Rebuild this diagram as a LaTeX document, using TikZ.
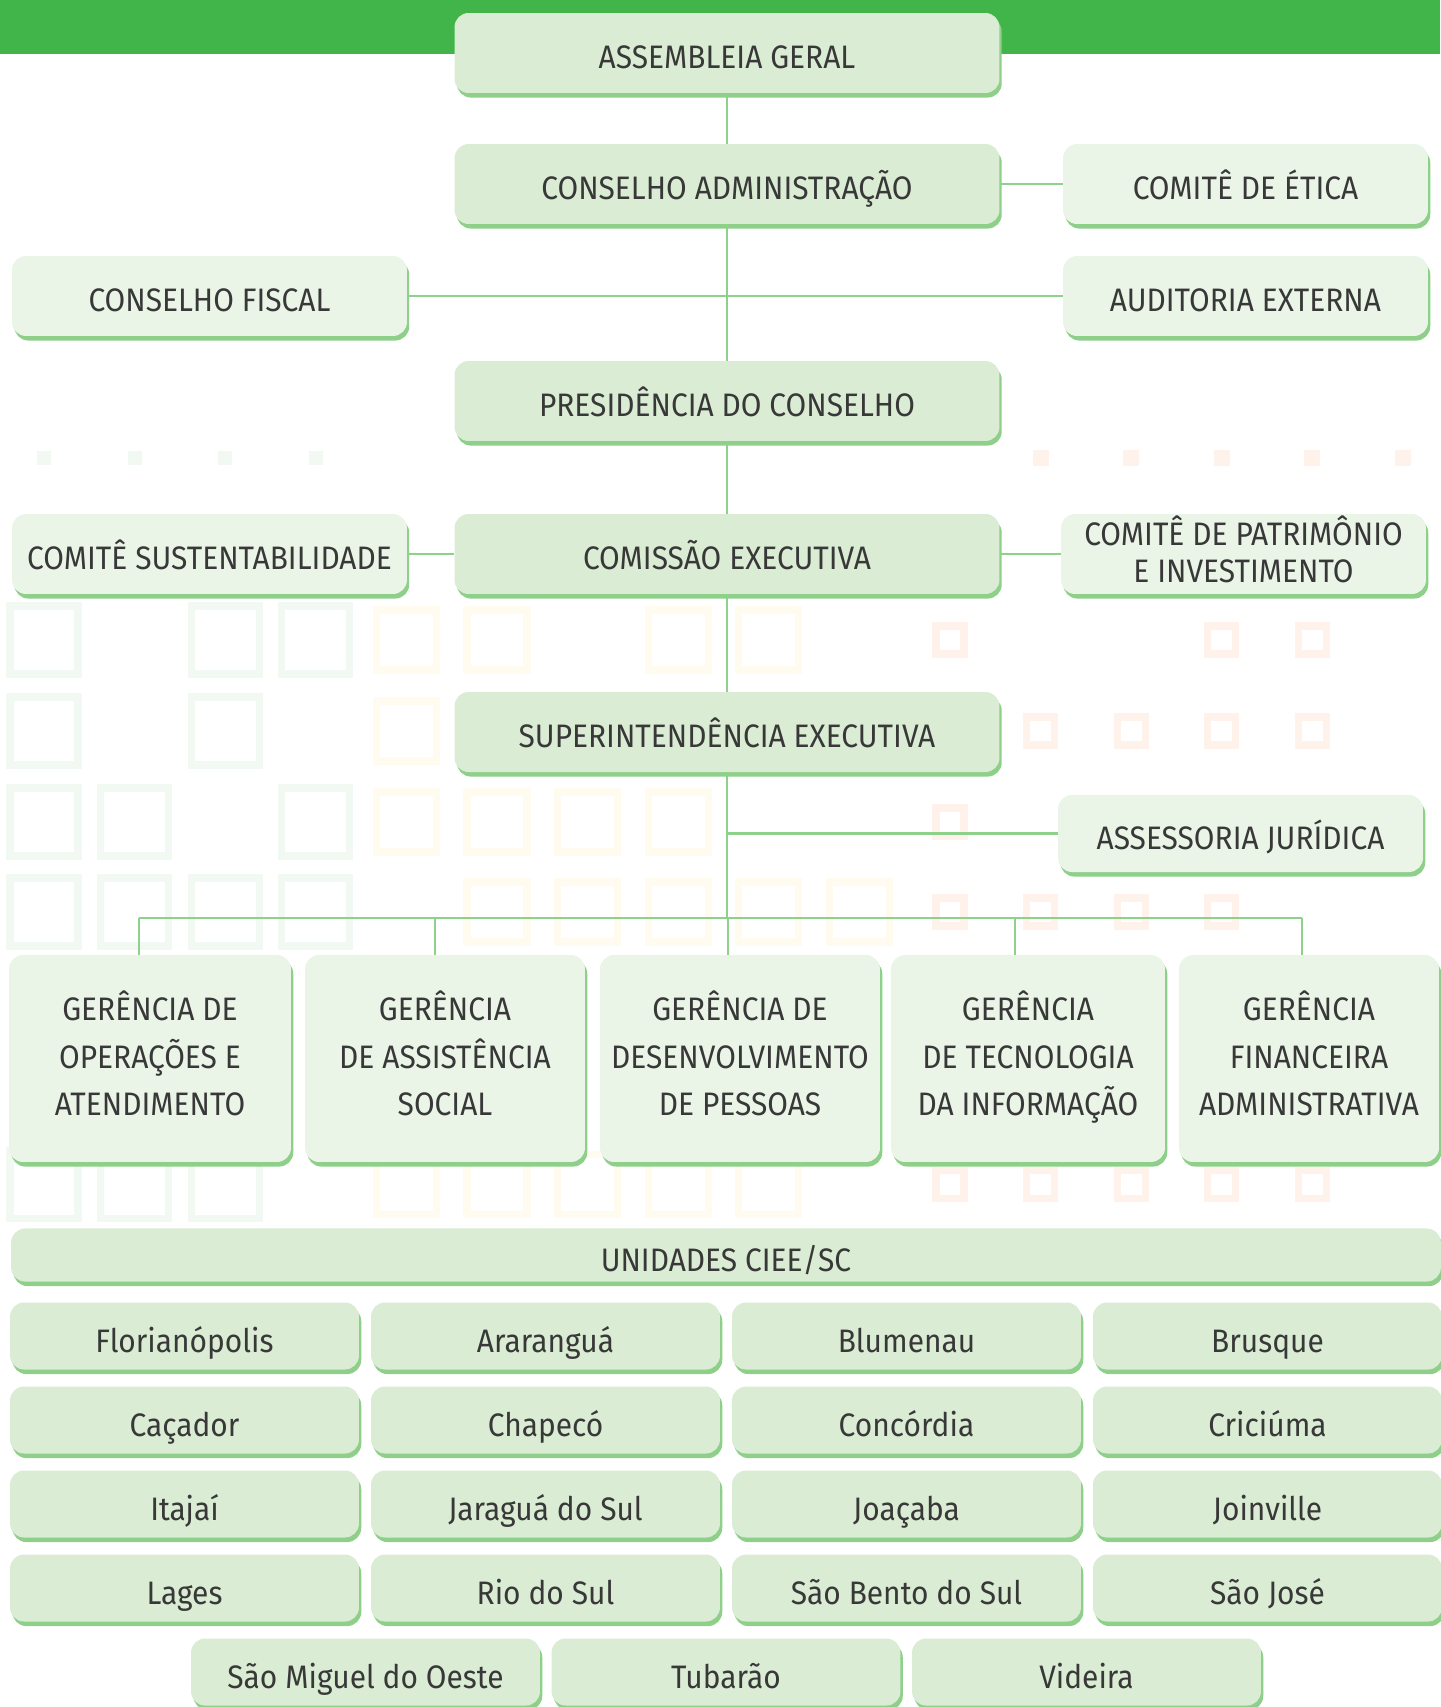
\documentclass[tikz,border=0pt]{standalone}
\usepackage{fontspec}
\setmainfont{Fira Sans}[FakeStretch=0.92]
\usepackage{tikz}
\usetikzlibrary{shadows}

\definecolor{topbar}{HTML}{41B54A}
\definecolor{boxfill}{HTML}{DAECD3}
\definecolor{boxlight}{HTML}{EAF5E7}
\definecolor{boxshade}{HTML}{8ECF8A}
\definecolor{linkgreen}{HTML}{8ED18B}
\definecolor{decog}{HTML}{F2F9F2}
\definecolor{decoy}{HTML}{FFFBEE}
\definecolor{decoo}{HTML}{FEF2EA}

\newcommand\boxstrut{\rule[-6pt]{0pt}{30.2pt}}

\tikzset{
    orgbox/.style={fill=boxfill, rounded corners=8pt, inner sep=0pt, align=center,
        text=black!78, font=\fontsize{18.5}{27}\selectfont,
        execute at begin node=\boxstrut, execute at end node=\boxstrut,
        drop shadow={shadow xshift=1.3pt, shadow yshift=-2.6pt, fill=boxshade, opacity=1}},
    sidebox/.style={orgbox, fill=boxlight},
    topgap/.style={execute at begin node={\rule{0pt}{#1}}},
    midbox/.style={orgbox, minimum width=10.9cm, minimum height=1.6cm},
    gerbox/.style={sidebox, minimum height=4.14cm, topgap=30.4pt},
    citybox/.style={orgbox, minimum width=6.98cm, minimum height=1.34cm},
    link/.style={draw=linkgreen, line width=1.5pt},
}

\begin{document}
\begin{tikzpicture}[x=0.02cm, y=-0.02cm]
    \useasboundingbox (0,0) rectangle (1440,1707);
    \fill[topbar] (0,0) rectangle (1440,54);

    % faint squares in the background
    \foreach \i in {0,...,3}
        \fill[decog] ({44+90.6*\i-7},451) rectangle ++(14,14);
    \foreach \i in {11,...,15}
        \fill[decoo] ({44+90.6*\i-8},450) rectangle ++(16,16);
    \foreach \y/\list in {640/{0,2,3}, 731/{0,2}, 822/{0,1,3}, 912/{0,1,2,3}, 1184/{0,1,2}}
        \foreach \i in \list
            \draw[decog, line width=4pt] ({44+90.6*\i-34},{\y-34}) rectangle ++(68,68);
    \foreach \y/\list in {640/{4,5,7,8}, 731/{4}, 822/{4,5,6,7}, 912/{5,6,7,8,9}, 1184/{4,5,6,7,8}}
        \foreach \i in \list
            \draw[decoy, line width=4pt] ({44+90.6*\i-30},{\y-30}) rectangle ++(60,60);
    \foreach \y/\list in {640/{10,13,14}, 731/{11,12,13,14}, 822/{10}, 912/{10,11,12,13}, 1184/{10,11,12,13,14}}
        \foreach \i in \list
            \draw[decoo, line width=4pt] ({44+90.6*\i-14},{\y-14}) rectangle ++(28,28);

    % Top of the chart
    \node[midbox] (asm) at (727,53) {ASSEMBLEIA GERAL};
    \node[midbox] (cad) at (727,184) {CONSELHO ADMINISTRAÇÃO};
    \node[sidebox, minimum width=7.3cm, minimum height=1.6cm] (etica) at (1245.5,184) {COMITÊ DE ÉTICA};
    \node[sidebox, minimum width=7.9cm, minimum height=1.6cm] (fiscal) at (209.5,296) {CONSELHO FISCAL};
    \node[sidebox, minimum width=7.3cm, minimum height=1.6cm] (audit) at (1245.5,296) {AUDITORIA EXTERNA};
    \node[midbox] (pres) at (727,401) {PRESIDÊNCIA DO CONSELHO};
    \node[sidebox, minimum width=7.9cm, minimum height=1.6cm] (sust) at (209.5,554) {COMITÊ SUSTENTABILIDADE};
    \node[midbox] (cex) at (727,554) {COMISSÃO EXECUTIVA};
    \node[sidebox, minimum width=7.3cm, minimum height=1.6cm, topgap=29.2pt, font=\fontsize{18.5}{21}\selectfont] (patr) at (1243.5,554) {COMITÊ DE PATRIMÔNIO\\E INVESTIMENTO};
    \node[midbox] (sup) at (727,732) {SUPERINTENDÊNCIA EXECUTIVA};
    \node[sidebox, minimum width=7.3cm, minimum height=1.54cm] (jur) at (1240.5,833.5) {ASSESSORIA JURÍDICA};

    \draw[link] (asm) -- (cad);
    \draw[link] (cad) -- (etica);
    \draw[link] (cad) -- (pres);
    \draw[link] (fiscal) -- (audit);
    \draw[link] (pres) -- (cex);
    \draw[link] (sust) -- (cex);
    \draw[link] (cex) -- (patr);
    \draw[link] (cex) -- (sup);

    % Gerencias
    \node[gerbox, minimum width=5.64cm] (g1) at (150,1058.5) {GERÊNCIA DE\\OPERAÇÕES E\\ATENDIMENTO};
    \node[gerbox, minimum width=5.6cm] (g2) at (445,1058.5) {GERÊNCIA\\DE ASSISTÊNCIA\\SOCIAL};
    \node[gerbox, minimum width=5.6cm] (g3) at (740,1058.5) {GERÊNCIA DE\\DESENVOLVIMENTO\\DE PESSOAS};
    \node[gerbox, minimum width=5.48cm] (g4) at (1028,1058.5) {GERÊNCIA\\DE TECNOLOGIA\\DA INFORMAÇÃO};
    \node[gerbox, minimum width=5.2cm] (g5) at (1309,1058.5) {GERÊNCIA\\FINANCEIRA\\ADMINISTRATIVA};

    \coordinate (bus) at (727,918);
    \draw[link] (sup) -- (bus);
    \draw[link] (sup.south |- jur.west) -- (jur.west);
    \foreach \g/\x in {g1/139, g2/435, g3/728, g4/1015, g5/1302}{
        \coordinate (d\g) at (\x,918);
        \draw[link] (d\g) -- (d\g |- \g.north);
    }
    \draw[link] (dg1) -- (dg5);

    % Unidades
    \node[orgbox, minimum width=28.6cm, minimum height=0.96cm] (unid) at (726,1255) {UNIDADES CIEE/SC};
    \foreach \city [count=\i from 0] in {Florianópolis,Araranguá,Blumenau,Brusque,Caçador,Chapecó,Concórdia,Criciúma,Itajaí,Jaraguá do Sul,Joaçaba,Joinville,Lages,Rio do Sul,São Bento do Sul,São José}{
        \pgfmathsetmacro\cx{184.5+361*mod(\i,4)}
        \pgfmathsetmacro\cy{1336+84*floor(\i/4)}
        \node[citybox] (city\i) at (\cx,\cy) {\city};
    }
    \foreach \city/\cx [count=\i from 16] in {São Miguel do Oeste/365.5, Tubarão/726, Videira/1086.5}
        \node[citybox] (city\i) at (\cx,1672) {\city};
\end{tikzpicture}
\end{document}
